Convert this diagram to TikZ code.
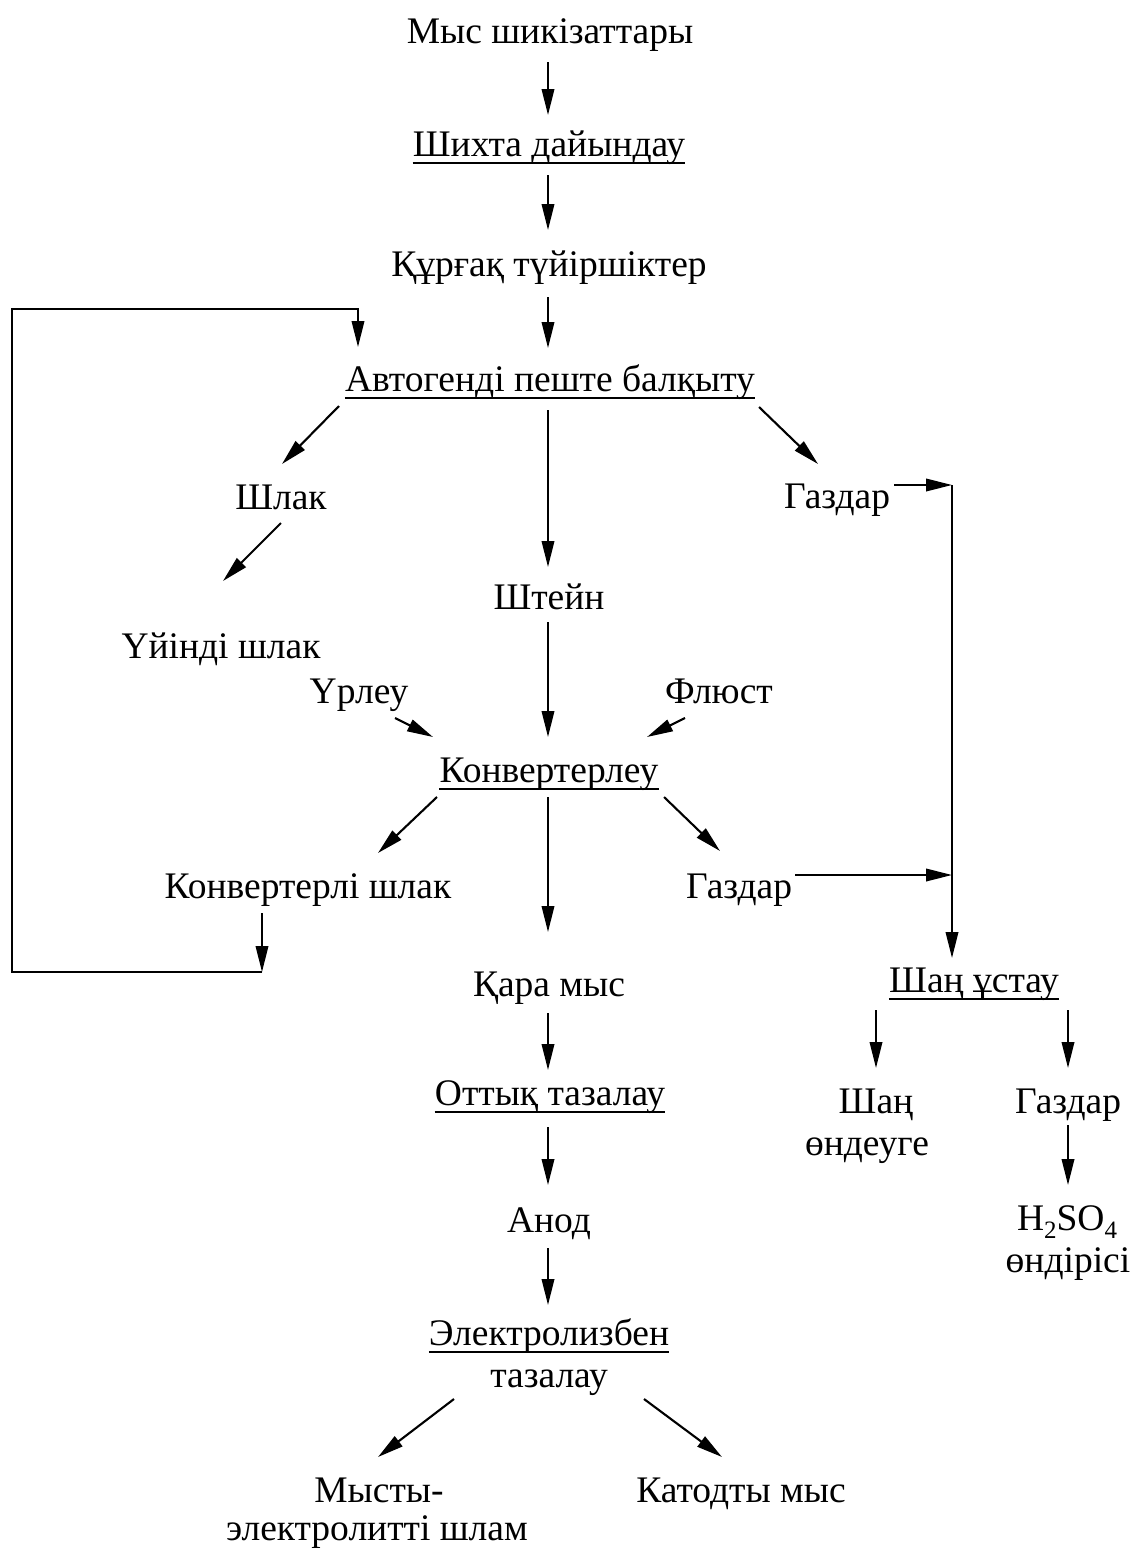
\documentclass[tikz,border=0pt]{standalone}
\usepackage{fontspec}
\setmainfont{Liberation Serif}
\usetikzlibrary{arrows.meta,calc}
\tikzset{
  lbl/.style={anchor=base, inner sep=0pt, font=\fontsize{37.5}{42}\selectfont},
  arr/.style={line width=2.1pt, -{Triangle[length=26pt,width=12.5pt]}},
  ln/.style={line width=2.1pt},
  ul/.style={line width=1.6pt}
}
\newcommand\subnum[1]{\raisebox{-0.22em}{\fontsize{25}{25}\selectfont #1}}
\begin{document}
\begin{tikzpicture}[x=1pt,y=-1pt]
\useasboundingbox (0,0) rectangle (1131,1548);
% nodes
\node[lbl] (mys)    at (550,43)   {Мыс шикізаттары};
\node[lbl] (shihta) at (549,156)  {Шихта дайындау};
\node[lbl] (kurgak) at (549,276)  {Құрғақ түйіршіктер};
\node[lbl] (avt)    at (550,391)  {Автогенді пеште балқыту};
\node[lbl] (shlak)  at (281,509)  {Шлак};
\node[lbl] (gaz1)   at (837,508)  {Газдар};
\node[lbl] (shteyn) at (549,609)  {Штейн};
\node[lbl] (uyindi) at (221,658)  {Үйінді шлак};
\node[lbl] (urleu)  at (359,703)  {Үрлеу};
\node[lbl] (flyust) at (719,703)  {Флюст};
\node[lbl] (konv)   at (549,782)  {Конвертерлеу};
\node[lbl] (konvsh) at (308,898)  {Конвертерлі шлак};
\node[lbl] (gaz2)   at (739,898)  {Газдар};
\node[lbl] (kara)   at (549,996)  {Қара мыс};
\node[lbl] (shan)   at (974,992)  {Шаң ұстау};
\node[lbl] (ottyk)  at (550,1105) {Оттық тазалау};
\node[lbl] (shanA)  at (876,1113) {Шаң};
\node[lbl] (shanB)  at (867,1155) {өндеуге};
\node[lbl] (gaz3)   at (1068,1113) {Газдар};
\node[lbl] (hso)    at (1067,1230) {H\subnum{2}SO\subnum{4}};
\node[lbl] (hsoB)   at (1068,1272) {өндірісі};
\node[lbl] (anod)   at (549,1232) {Анод};
\node[lbl] (elektr) at (549,1345) {Электролизбен};
\node[lbl] (elektrB) at (549,1387) {тазалау};
\node[lbl] (mysty)  at (379,1502) {Мысты-};
\node[lbl] (mystyB) at (377,1540) {электролитті шлам};
\node[lbl] (katod)  at (741,1502) {Катодты мыс};
% underlines
\foreach \n in {shihta,avt,konv,shan,ottyk,elektr}
  \draw[ul] ($(\n.base west)+(0,7)$) -- ($(\n.base east)+(0,7)$);
% main chain
\draw[arr] ($(mys.base)+(-2,19)$) -- ($(shihta.base)+(-1,-41)$);
\draw[arr] ($(shihta.base)+(-1,19)$) -- ($(kurgak.base)+(-1,-46)$);
\draw[arr] ($(kurgak.base)+(-1,21)$) -- ($(avt.base)+(-2,-43)$);
\draw[arr] ($(avt.base)+(-211,15)$) -- ($(shlak.base)+(1,-45)$);
\draw[arr] ($(avt.base)+(209,16)$) -- ($(gaz1.base)+(-19,-44)$);
\draw[arr] ($(avt.base)+(-2,19)$) -- ($(shteyn.base)+(-1,-42)$);
\draw[arr] ($(shlak.base)+(0,14)$) -- ($(uyindi.base)+(2,-77)$);
\draw[arr] ($(shteyn.base)+(-1,13)$) -- ($(konv.base)+(-1,-45)$);
\draw[arr] ($(urleu.base)+(36,15)$) -- ($(konv.base)+(-116,-45)$);
\draw[arr] ($(flyust.base)+(-34,15)$) -- ($(konv.base)+(98,-45)$);
\draw[arr] ($(konv.base)+(-112,15)$) -- ($(konvsh.base)+(70,-45)$);
\draw[arr] ($(konv.base)+(-1,15)$) -- ($(kara.base)+(-1,-64)$);
\draw[arr] ($(konv.base)+(115,15)$) -- ($(gaz2.base)+(-19,-47)$);
\draw[arr] ($(kara.base)+(-1,17)$) -- ($(ottyk.base)+(-2,-35)$);
\draw[arr] ($(ottyk.base)+(-2,22)$) -- ($(anod.base)+(-1,-47)$);
\draw[arr] ($(anod.base)+(-1,16)$) -- ($(elektr.base)+(-1,-40)$);
\draw[arr] ($(elektrB.base)+(-95,12)$) -- ($(mysty.base)+(-1,-45)$);
\draw[arr] ($(elektrB.base)+(95,12)$) -- ($(katod.base)+(-19,-45)$);
% gases
\draw[arr] ($(gaz1.base)+(57,-23)$) -- ($(gaz1.base)+(115,-23)$) coordinate (gazR);
\draw[arr] (gazR) -- ($(shan.base)+(-22,-34)$);
\draw[arr] ($(gaz2.base)+(56,-23)$) coordinate (gtwo) -- (gtwo -| gazR);
% dust catching
\draw[arr] ($(shan.base)+(-98,18)$) -- ($(shanA.base)+(0,-45)$);
\draw[arr] ($(shan.base)+(94,18)$) -- ($(gaz3.base)+(0,-45)$);
\draw[arr] ($(gaz3.base)+(0,12)$) -- ($(hso.base)+(1,-45)$);
% slag return loop
\draw[arr] ($(konvsh.base)+(-46,15)$) -- ($(konvsh.base)+(-46,74)$) coordinate (loopA);
\draw[arr] (loopA) -- ++(-250,0) |- ($(avt.base)+(-192,-82)$) -- ($(avt.base)+(-192,-44)$);
\end{tikzpicture}
\end{document}
